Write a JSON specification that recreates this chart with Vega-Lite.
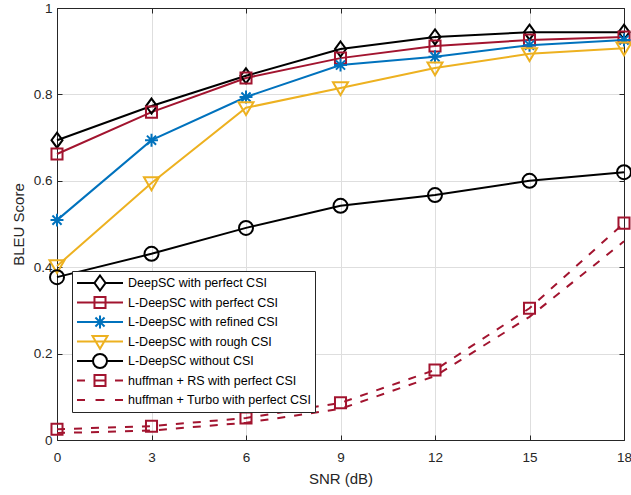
{
  "$schema": "https://vega.github.io/schema/vega-lite/v6.json",
  "width": 567,
  "height": 432,
  "autosize": {"type": "none"},
  "padding": {"left": 57, "top": 8, "right": 7, "bottom": 55},
  "background": "white",
  "config": {
    "font": "Liberation Sans",
    "view": {"stroke": "#262626", "strokeWidth": 1},
    "axis": {
      "domainColor": "#262626",
      "tickColor": "#262626",
      "labelColor": "#262626",
      "titleColor": "#262626",
      "labelFont": "Liberation Sans",
      "titleFont": "Liberation Sans",
      "labelFontSize": 13.5,
      "titleFontSize": 15,
      "titleFontWeight": "normal",
      "gridColor": "#dedede",
      "gridWidth": 1,
      "tickSize": -5,
      "domainWidth": 1,
      "labelFlush": false
    }
  },
  "data": {
    "values": [
      {"snr": 0, "bleu": 0.694, "series": "DeepSC with perfect CSI"},
      {"snr": 3, "bleu": 0.773, "series": "DeepSC with perfect CSI"},
      {"snr": 6, "bleu": 0.843, "series": "DeepSC with perfect CSI"},
      {"snr": 9, "bleu": 0.905, "series": "DeepSC with perfect CSI"},
      {"snr": 12, "bleu": 0.933, "series": "DeepSC with perfect CSI"},
      {"snr": 15, "bleu": 0.944, "series": "DeepSC with perfect CSI"},
      {"snr": 18, "bleu": 0.944, "series": "DeepSC with perfect CSI"},
      {"snr": 0, "bleu": 0.662, "series": "L-DeepSC with perfect CSI"},
      {"snr": 3, "bleu": 0.759, "series": "L-DeepSC with perfect CSI"},
      {"snr": 6, "bleu": 0.838, "series": "L-DeepSC with perfect CSI"},
      {"snr": 9, "bleu": 0.884, "series": "L-DeepSC with perfect CSI"},
      {"snr": 12, "bleu": 0.912, "series": "L-DeepSC with perfect CSI"},
      {"snr": 15, "bleu": 0.926, "series": "L-DeepSC with perfect CSI"},
      {"snr": 18, "bleu": 0.933, "series": "L-DeepSC with perfect CSI"},
      {"snr": 0, "bleu": 0.509, "series": "L-DeepSC with refined CSI"},
      {"snr": 3, "bleu": 0.694, "series": "L-DeepSC with refined CSI"},
      {"snr": 6, "bleu": 0.794, "series": "L-DeepSC with refined CSI"},
      {"snr": 9, "bleu": 0.868, "series": "L-DeepSC with refined CSI"},
      {"snr": 12, "bleu": 0.887, "series": "L-DeepSC with refined CSI"},
      {"snr": 15, "bleu": 0.914, "series": "L-DeepSC with refined CSI"},
      {"snr": 18, "bleu": 0.926, "series": "L-DeepSC with refined CSI"},
      {"snr": 0, "bleu": 0.403, "series": "L-DeepSC with rough CSI"},
      {"snr": 3, "bleu": 0.595, "series": "L-DeepSC with rough CSI"},
      {"snr": 6, "bleu": 0.769, "series": "L-DeepSC with rough CSI"},
      {"snr": 9, "bleu": 0.815, "series": "L-DeepSC with rough CSI"},
      {"snr": 12, "bleu": 0.861, "series": "L-DeepSC with rough CSI"},
      {"snr": 15, "bleu": 0.894, "series": "L-DeepSC with rough CSI"},
      {"snr": 18, "bleu": 0.907, "series": "L-DeepSC with rough CSI"},
      {"snr": 0, "bleu": 0.377, "series": "L-DeepSC without CSI"},
      {"snr": 3, "bleu": 0.431, "series": "L-DeepSC without CSI"},
      {"snr": 6, "bleu": 0.491, "series": "L-DeepSC without CSI"},
      {"snr": 9, "bleu": 0.542, "series": "L-DeepSC without CSI"},
      {"snr": 12, "bleu": 0.567, "series": "L-DeepSC without CSI"},
      {"snr": 15, "bleu": 0.600, "series": "L-DeepSC without CSI"},
      {"snr": 18, "bleu": 0.620, "series": "L-DeepSC without CSI"},
      {"snr": 0, "bleu": 0.025, "series": "huffman + RS with perfect CSI"},
      {"snr": 3, "bleu": 0.032, "series": "huffman + RS with perfect CSI"},
      {"snr": 6, "bleu": 0.051, "series": "huffman + RS with perfect CSI"},
      {"snr": 9, "bleu": 0.086, "series": "huffman + RS with perfect CSI"},
      {"snr": 12, "bleu": 0.162, "series": "huffman + RS with perfect CSI"},
      {"snr": 15, "bleu": 0.305, "series": "huffman + RS with perfect CSI"},
      {"snr": 18, "bleu": 0.502, "series": "huffman + RS with perfect CSI"},
      {"snr": 0, "bleu": 0.016, "series": "huffman + Turbo with perfect CSI"},
      {"snr": 3, "bleu": 0.022, "series": "huffman + Turbo with perfect CSI"},
      {"snr": 6, "bleu": 0.040, "series": "huffman + Turbo with perfect CSI"},
      {"snr": 9, "bleu": 0.072, "series": "huffman + Turbo with perfect CSI"},
      {"snr": 12, "bleu": 0.148, "series": "huffman + Turbo with perfect CSI"},
      {"snr": 15, "bleu": 0.285, "series": "huffman + Turbo with perfect CSI"},
      {"snr": 18, "bleu": 0.460, "series": "huffman + Turbo with perfect CSI"}
    ]
  },
  "resolve": {"axis": {"x": "independent", "y": "independent"}},
  "layer": [
    {
      "transform": [{"filter": "indexof(datum.series, 'huffman') < 0"}],
      "mark": {"type": "line", "strokeWidth": 2, "clip": false},
      "encoding": {
        "x": {
          "field": "snr", "type": "quantitative",
          "scale": {"domain": [0, 18], "nice": false, "zero": false},
          "axis": {"orient": "bottom", "values": [0, 3, 6, 9, 12, 15, 18], "title": "SNR (dB)", "grid": true, "labelPadding": 15, "titlePadding": 8}
        },
        "y": {
          "field": "bleu", "type": "quantitative",
          "scale": {"domain": [0, 1], "nice": false},
          "axis": {"orient": "left", "values": [0, 0.2, 0.4, 0.6, 0.8, 1], "format": "~g", "title": "BLEU Score", "grid": true, "labelPadding": 10, "titlePadding": 7}
        },
        "color": {
          "field": "series", "type": "nominal",
          "scale": {
            "domain": ["DeepSC with perfect CSI", "L-DeepSC with perfect CSI", "L-DeepSC with refined CSI", "L-DeepSC with rough CSI", "L-DeepSC without CSI", "huffman + RS with perfect CSI", "huffman + Turbo with perfect CSI"],
            "range": ["#000000", "#A2142F", "#0072BD", "#EDB120", "#000000", "#A2142F", "#A2142F"]
          },
          "legend": {
            "title": null,
            "orient": "none",
            "legendX": 15,
            "legendY": 263,
            "fillColor": "white",
            "strokeColor": "#262626",
            "padding": 3,
            "labelFont": "Liberation Sans",
            "labelFontSize": 12.5,
            "labelColor": "#000000",
            "labelLimit": 400,
            "symbolSize": 256,
            "symbolStrokeWidth": 2,
            "symbolOffset": 16,
            "labelOffset": 19,
            "clipHeight": 18,
            "rowPadding": 1.5,
            "encode": {
              "symbols": {
                "update": {
                  "fill": {"value": "transparent"},
                  "strokeDash": {"value": []},
                  "shape": {"signal": "['M-2.875,0H-0.69M0.69,0H2.875M0,-0.94L0.69,0L0,0.94L-0.69,0Z','M-2.875,0H2.875M-0.69,-0.69H0.69V0.69H-0.69Z','M-2.875,0H2.875M0,-0.81V0.81M-0.57,-0.57L0.57,0.57M-0.57,0.57L0.57,-0.57','M-2.875,0H2.875M-0.94,-0.7H0.94L0,0.9Z','M-2.875,0H-0.875M0.875,0H2.875M-0.875,0A0.875,0.875 0 1,0 0.875,0A0.875,0.875 0 1,0 -0.875,0Z','M-2.875,0H-1.875M1.875,0H2.875M-0.69,-0.69H0.69V0.69H-0.69ZM-0.69,0H0.69','M-2.875,0H-1.875M-0.56,0H0.56M1.875,0H2.875'][indexof(['DeepSC with perfect CSI','L-DeepSC with perfect CSI','L-DeepSC with refined CSI','L-DeepSC with rough CSI','L-DeepSC without CSI','huffman + RS with perfect CSI','huffman + Turbo with perfect CSI'], datum.value)]"}
                }
              }
            }
          }
        }
      }
    },
    {
      "transform": [{"filter": "indexof(datum.series, 'huffman') >= 0"}],
      "mark": {"type": "line", "strokeWidth": 2, "strokeDash": [8, 9], "clip": false},
      "encoding": {
        "x": {"field": "snr", "type": "quantitative", "axis": null},
        "y": {"field": "bleu", "type": "quantitative", "axis": null},
        "color": {"field": "series", "type": "nominal"}
      }
    },
    {
      "transform": [{"filter": "datum.series !== 'huffman + Turbo with perfect CSI'"}],
      "mark": {"type": "point", "filled": false, "strokeWidth": 2, "size": 256, "opacity": 1, "clip": false},
      "encoding": {
        "x": {
          "field": "snr", "type": "quantitative",
          "axis": {"orient": "top", "values": [0, 3, 6, 9, 12, 15, 18], "labels": false, "title": null, "grid": false}
        },
        "y": {
          "field": "bleu", "type": "quantitative",
          "axis": {"orient": "right", "values": [0, 0.2, 0.4, 0.6, 0.8, 1], "labels": false, "title": null, "grid": false}
        },
        "color": {"field": "series", "type": "nominal"},
        "shape": {
          "field": "series", "type": "nominal",
          "scale": {
            "domain": ["DeepSC with perfect CSI", "L-DeepSC with perfect CSI", "L-DeepSC with refined CSI", "L-DeepSC with rough CSI", "L-DeepSC without CSI", "huffman + RS with perfect CSI"],
            "range": ["M0,-0.94L0.69,0L0,0.94L-0.69,0Z", "M-0.69,-0.69H0.69V0.69H-0.69Z", "M-0.81,0H0.81M0,-0.81V0.81M-0.57,-0.57L0.57,0.57M-0.57,0.57L0.57,-0.57", "M-0.94,-0.7H0.94L0,0.9Z", "M-0.875,0A0.875,0.875 0 1,0 0.875,0A0.875,0.875 0 1,0 -0.875,0Z", "M-0.69,-0.69H0.69V0.69H-0.69Z"]
          },
          "legend": null
        }
      }
    }
  ]
}
